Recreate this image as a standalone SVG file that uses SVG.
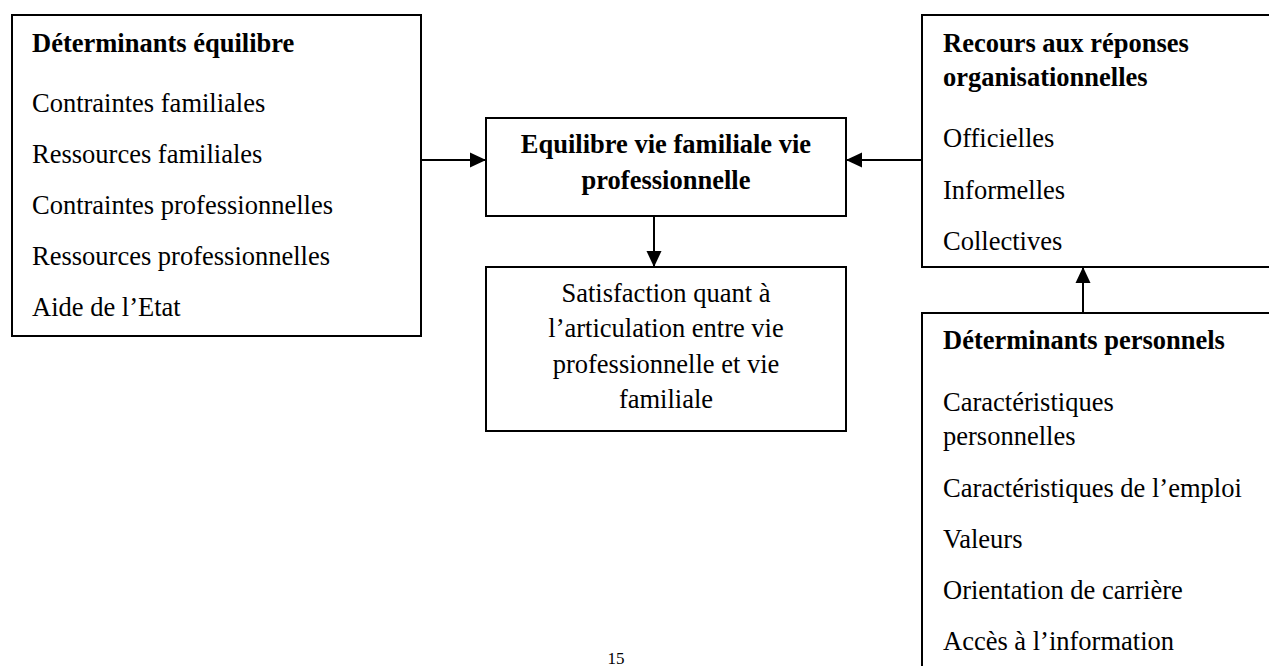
<svg xmlns="http://www.w3.org/2000/svg" width="1269" height="666" viewBox="0 0 1269 666">
<style>
.box{fill:#fff;stroke:#000;stroke-width:2}
text{font-family:"Liberation Serif","Times New Roman",serif;font-size:26.5px;fill:#000}
.b{font-weight:bold}
.c{text-anchor:middle}
.ln{stroke:#000;stroke-width:2;fill:none}
</style>
<defs>
<marker id="ah" markerUnits="userSpaceOnUse" markerWidth="16" markerHeight="16" viewBox="0 0 16 16" refX="16" refY="8" orient="auto">
<path d="M0,0.5 L16,8 L0,15.5 Z" fill="#000"/>
</marker>
</defs>
<rect width="1269" height="666" fill="#fff"/>
<g id="connectors">
<line class="ln" x1="421" y1="160" x2="486" y2="160" marker-end="url(#ah)"/>
<line class="ln" x1="922" y1="160" x2="846" y2="160" marker-end="url(#ah)"/>
<line class="ln" x1="654" y1="216" x2="654" y2="267" marker-end="url(#ah)"/>
<line class="ln" x1="1083" y1="313" x2="1083" y2="267" marker-end="url(#ah)"/>
</g>
<g id="determinants-equilibre">
<rect class="box" x="12" y="15" width="409" height="321"/>
<text class="b" x="32" y="52">Déterminants équilibre</text>
<text x="32" y="112">Contraintes familiales</text>
<text x="32" y="163">Ressources familiales</text>
<text x="32" y="214">Contraintes professionnelles</text>
<text x="32" y="265">Ressources professionnelles</text>
<text x="32" y="316">Aide de l’Etat</text>
</g>
<g id="equilibre">
<rect class="box" x="486" y="118" width="360" height="98"/>
<text class="b c" x="666" y="153">Equilibre vie familiale vie</text>
<text class="b c" x="666" y="189">professionnelle</text>
</g>
<g id="satisfaction">
<rect class="box" x="486" y="267" width="360" height="164"/>
<text class="c" x="666" y="302">Satisfaction quant à</text>
<text class="c" x="666" y="337">l’articulation entre vie</text>
<text class="c" x="666" y="373">professionnelle et vie</text>
<text class="c" x="666" y="408">familiale</text>
</g>
<g id="recours">
<rect class="box" x="922" y="15" width="360" height="252"/>
<text class="b" x="943" y="52">Recours aux réponses</text>
<text class="b" x="943" y="86">organisationnelles</text>
<text x="943" y="147">Officielles</text>
<text x="943" y="199">Informelles</text>
<text x="943" y="250">Collectives</text>
</g>
<g id="determinants-personnels">
<rect class="box" x="922" y="313" width="360" height="380"/>
<text class="b" x="943" y="349">Déterminants personnels</text>
<text x="943" y="411">Caractéristiques</text>
<text x="943" y="445">personnelles</text>
<text x="943" y="497">Caractéristiques de l’emploi</text>
<text x="943" y="548">Valeurs</text>
<text x="943" y="599">Orientation de carrière</text>
<text x="943" y="650">Accès à l’information</text>
</g>
<text class="c" x="616" y="664" style="font-size:17px">15</text>
</svg>
